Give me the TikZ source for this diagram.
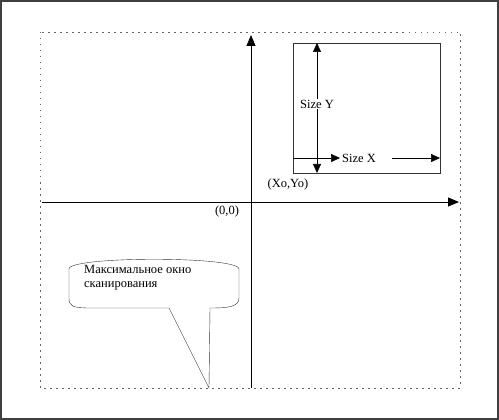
\documentclass[tikz,border=0pt]{standalone}
\usepackage{fontspec}
\setmainfont{Liberation Serif}
\usepackage{tikz}
\usetikzlibrary{arrows.meta,calc}

\begin{document}
\begin{tikzpicture}[x=1pt,y=-1pt,font=\fontsize{12.5}{14.5}\selectfont,
	axis/.style={thick,-{Triangle[length=11pt,width=9pt]}},
	dim/.style={semithick,{Triangle[length=9pt,width=8pt]}-{Triangle[length=9pt,width=8pt]}},
	lbl/.style={inner sep=1pt}]
	\useasboundingbox (0,0) rectangle (499,420);
	\draw[line width=2pt,black!75] (1,1) rectangle (498,419);
	% scan area
	\draw[black!60,dash pattern={on 1.5pt off 4.5pt}] (40,32) rectangle (460,388);
	% axes
	\coordinate (O) at (251,202);
	\coordinate (xl) at (42,202);  \coordinate (xr) at (459,202);
	\coordinate (yb) at (251,388); \coordinate (yt) at (251,35);
	\draw[axis] (xl) -- (xr);
	\draw[axis] (yb) -- (yt);
	\node[lbl] (orig) at (227,211) {(0,0)};
	% window
	\draw[black!80] (293,43) rectangle (440,173);
	\coordinate (wyt) at (317,43); \coordinate (wyb) at (317,173);
	\draw[dim] (wyb) -- (wyt) node[pos=0.53,fill=white,lbl] (sy) {Size Y};
	\coordinate (wxl) at (293,158); \coordinate (wxr) at (440,158);
	\coordinate (gl) at (340,158); \coordinate (gr) at (392,158);
	\draw[semithick,{Triangle[length=9pt,width=8pt]}-] (gl) -- (wxl);
	\draw[semithick,-{Triangle[length=9pt,width=8pt]}] (gr) -- (wxr);
	\node[lbl,anchor=west] (sx) at (341,158) {Size X};
	\node[lbl] (xy0) at (288,184) {(Xo,Yo)};
	% callout
	\coordinate (tip) at (209,388);
	\draw[black!80,fill=white] (69,269) .. controls (69,256) and (239,256) .. (239,269)
		-- (239,298) .. controls (239,307) and (228,308) .. (210,308) -- (tip)
		-- (169,308) -- (90,308) .. controls (72,308) and (69,306) .. (69,298) -- cycle;
	\node[lbl,anchor=north west,align=left] (note) at (83,264)
		{Максимальное окно\\сканирования};
\end{tikzpicture}
\end{document}
